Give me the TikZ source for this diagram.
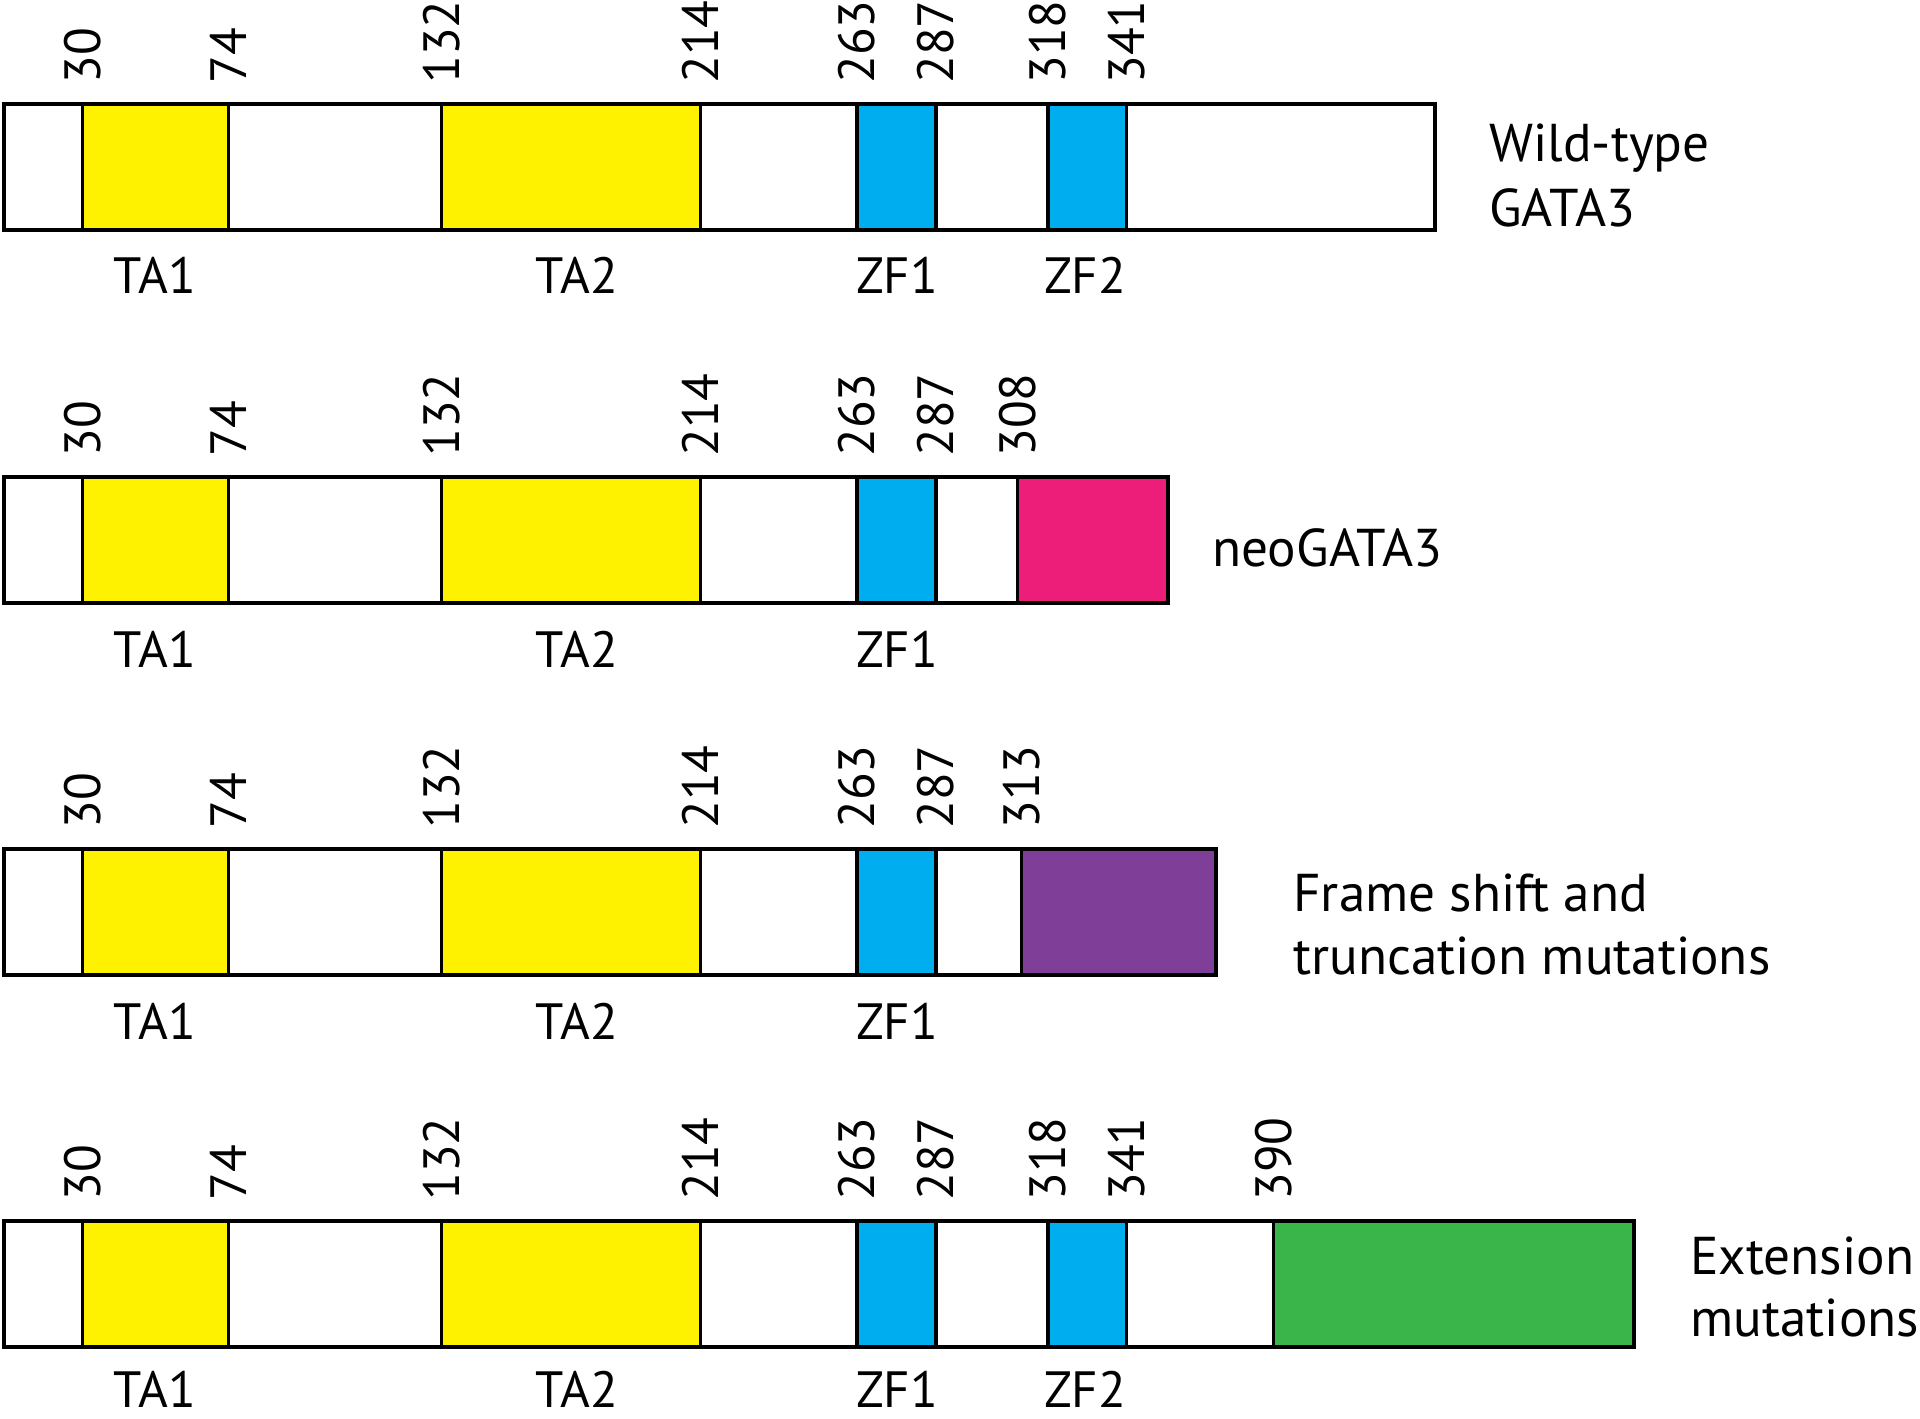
\documentclass[tikz,border=0pt]{standalone}
\usepackage{fontspec}
\setmainfont{PT Sans}
\definecolor{tayellow}{HTML}{FFF200}
\definecolor{zfblue}{HTML}{00AEEF}
\definecolor{neomag}{HTML}{ED1E79}
\definecolor{fspurple}{HTML}{7F3F98}
\definecolor{extgreen}{HTML}{39B54A}
\newcommand\gdom[4]{\draw[fill=#1, line width=1.6pt] (#2,#4) rectangle (#3,#4+126);}
\newcommand\gouter[2]{\draw[line width=2pt] (3.5,#2) rectangle (#1,#2+126);}
\begin{document}
\begin{tikzpicture}[x=0.5pt,y=-0.5pt,
  lab/.style={font=\fontsize{25.5}{32}\selectfont, inner sep=0pt},
  num/.style={lab, rotate=90, anchor=west},
  dom/.style={lab, anchor=base},
  side/.style={font=\fontsize{26.6}{32}\selectfont, inner sep=0pt, anchor=base west, align=left}]
\useasboundingbox (0,0) rectangle (1920,1418);
\fill[white] (0,0) rectangle (1920,1418);

% ---------- Row 1: wild-type ----------
\def\T{104}
\fill[white] (3.5,\T) rectangle (1435,\T+126);
\gdom{tayellow}{82.5}{228.5}{\T}
\gdom{tayellow}{441.5}{700.5}{\T}
\gdom{zfblue}{857}{936}{\T}
\gdom{zfblue}{1048}{1126.5}{\T}
\gouter{1435}{\T}
\foreach \x/\t [count=\i] in {82.5/30,228.5/74,441.5/132,700.5/214,857/263,936/287,1048/318,1126.5/341}
  \node[num] (ra\i) at (\x,\T-20) {\t};
\node[dom] (raTA1) at (155,\T+189) {TA1};
\node[dom] (raTA2) at (577,\T+189) {TA2};
\node[dom] (raZF1) at (897,\T+189) {ZF1};
\node[dom] (raZF2) at (1085,\T+189) {ZF2};
\node[side] (rawt) at (1489,162) {Wild-type};
\node[side] (rag) at (1489,226) {GATA3};

% ---------- Row 2: neoGATA3 ----------
\def\T{477}
\fill[white] (3.5,\T) rectangle (1167.5,\T+126);
\gdom{tayellow}{82.5}{228.5}{\T}
\gdom{tayellow}{441.5}{700.5}{\T}
\gdom{zfblue}{857}{936}{\T}
\gdom{neomag}{1017.5}{1167.5}{\T}
\gouter{1167.5}{\T}
\foreach \x/\t [count=\i] in {82.5/30,228.5/74,441.5/132,700.5/214,857/263,936/287,1017.5/308}
  \node[num] (rb\i) at (\x,\T-20) {\t};
\node[dom] (rbTA1) at (155,\T+190) {TA1};
\node[dom] (rbTA2) at (577,\T+190) {TA2};
\node[dom] (rbZF1) at (897,\T+190) {ZF1};
\node[side] (rbneo) at (1212,566) {neoGATA3};

% ---------- Row 3: frame shift ----------
\def\T{849}
\fill[white] (3.5,\T) rectangle (1216,\T+126);
\gdom{tayellow}{82.5}{228.5}{\T}
\gdom{tayellow}{441.5}{700.5}{\T}
\gdom{zfblue}{857}{936}{\T}
\gdom{fspurple}{1021.5}{1216}{\T}
\gouter{1216}{\T}
\foreach \x/\t [count=\i] in {82.5/30,228.5/74,441.5/132,700.5/214,857/263,936/287,1021.5/313}
  \node[num] (rc\i) at (\x,\T-20) {\t};
\node[dom] (rcTA1) at (155,\T+190) {TA1};
\node[dom] (rcTA2) at (577,\T+190) {TA2};
\node[dom] (rcZF1) at (897,\T+190) {ZF1};
\node[side] (rcfs) at (1293,911) {Frame shift and};
\node[side] (rctm) at (1293,974) {truncation mutations};

% ---------- Row 4: extension ----------
\def\T{1221}
\fill[white] (3.5,\T) rectangle (1633.5,\T+126);
\gdom{tayellow}{82.5}{228.5}{\T}
\gdom{tayellow}{441.5}{700.5}{\T}
\gdom{zfblue}{857}{936}{\T}
\gdom{zfblue}{1048}{1126.5}{\T}
\gdom{extgreen}{1273.5}{1633.5}{\T}
\gouter{1633.5}{\T}
\foreach \x/\t [count=\i] in {82.5/30,228.5/74,441.5/132,700.5/214,857/263,936/287,1048/318,1126.5/341,1273.5/390}
  \node[num] (rd\i) at (\x,\T-20) {\t};
\node[dom] (rdTA1) at (155,\T+186) {TA1};
\node[dom] (rdTA2) at (577,\T+186) {TA2};
\node[dom] (rdZF1) at (897,\T+186) {ZF1};
\node[dom] (rdZF2) at (1085,\T+186) {ZF2};
\node[side] (rdext) at (1690,1274) {Extension};
\node[side] (rdmut) at (1690,1336) {mutations};
\end{tikzpicture}
\end{document}
